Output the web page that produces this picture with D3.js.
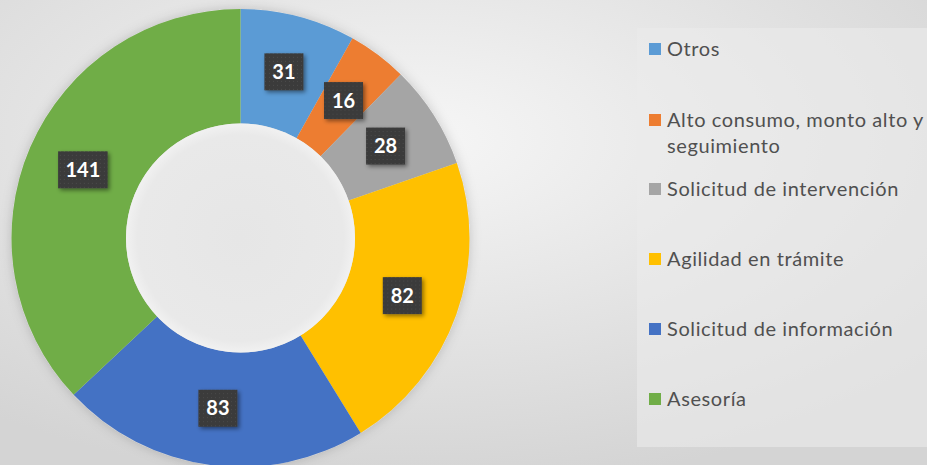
<!DOCTYPE html>
<html>
<head>
<meta charset="utf-8">
<script src="https://cdn.jsdelivr.net/npm/d3@7"></script>
<style>
  body { margin: 0; background: #e4e4e4; }
  svg { display: block; }
</style>
</head>
<body>
<svg id="chart" width="927" height="465"></svg>
<script>
// categories in clockwise order from 12 o'clock
const categories = ["Otros", "Alto consumo, monto alto y seguimiento", "Solicitud de intervención",
                    "Agilidad en trámite", "Solicitud de información", "Asesoría"];
const values = [31, 16, 28, 82, 83, 141];
const colors = ["#5B9BD5", "#ED7D31", "#A5A5A5", "#FFC000", "#4472C4", "#70AD47"];
// legend lines (long label wraps)
const legendLines = [["Otros"], ["Alto consumo, monto alto y", "seguimiento"], ["Solicitud de intervención"],
                     ["Agilidad en trámite"], ["Solicitud de información"], ["Asesoría"]];

const svg = d3.select("#chart");
const W = 927, H = 465;
const cx = 240.5, cy = 238, rOuter = 229, rInner = 114.5;

let defs = svg.append("defs");

// background: soft light centre, greyer edges
let bg = defs.append("radialGradient").attr("id", "bg")
    .attr("cx", "45%").attr("cy", "30%").attr("r", "75%");
bg.append("stop").attr("offset", "0%").attr("stop-color", "#f6f6f6");
bg.append("stop").attr("offset", "100%").attr("stop-color", "#d4d4d4");

let hole = defs.append("radialGradient").attr("id", "hole")
    .attr("cx", "50%").attr("cy", "50%").attr("r", "50%");
hole.append("stop").attr("offset", "0%").attr("stop-color", "#e6e6e6");
hole.append("stop").attr("offset", "90%").attr("stop-color", "#e9e9e9");
hole.append("stop").attr("offset", "100%").attr("stop-color", "#f1f1f1");

let shadow = defs.append("filter").attr("id", "shadow")
    .attr("x", "-30%").attr("y", "-30%").attr("width", "160%").attr("height", "160%");
shadow.append("feDropShadow").attr("dx", 2).attr("dy", 2).attr("stdDeviation", 2)
    .attr("flood-color", "#000").attr("flood-opacity", 0.45);

let glow = defs.append("filter").attr("id", "glow")
    .attr("x", "-20%").attr("y", "-20%").attr("width", "140%").attr("height", "140%");
glow.append("feDropShadow").attr("dx", 0).attr("dy", 0).attr("stdDeviation", 6)
    .attr("flood-color", "#000").attr("flood-opacity", 0.18);

// dotted texture for the label boxes
let pat = defs.append("pattern").attr("id", "dots")
    .attr("width", 4).attr("height", 4).attr("patternUnits", "userSpaceOnUse");
pat.append("rect").attr("width", 4).attr("height", 4).attr("fill", "#3a3a3a");
pat.append("rect").attr("x", 1).attr("y", 1).attr("width", 1).attr("height", 1).attr("fill", "#4c4c4c");

svg.append("rect").attr("width", W).attr("height", H).attr("fill", "url(#bg)");

// legend panel
svg.append("rect")
    .attr("x", 637).attr("y", 28).attr("width", 290).attr("height", 419)
    .attr("fill", "#ebebeb").attr("opacity", 0.6);

// donut
let pie = d3.pie().sort(null).value(d => d)(values);
let arc = d3.arc().innerRadius(rInner).outerRadius(rOuter);

let g = svg.append("g").attr("transform", `translate(${cx},${cy})`);

g.append("circle").attr("r", rOuter).attr("fill", "#ddd").attr("filter", "url(#glow)");

g.selectAll("path.slice")
    .data(pie)
    .join("path")
    .attr("class", "slice")
    .attr("d", arc)
    .attr("fill", (d, i) => colors[i]);

g.append("circle").attr("r", rInner).attr("fill", "url(#hole)");

// data labels
let labels = g.selectAll("g.lbl")
    .data(pie)
    .join("g")
    .attr("class", "lbl")
    .attr("transform", d => {
        let c = arc.centroid(d);
        return `translate(${c[0]},${c[1]})`;
    });

labels.append("rect")
    .attr("x", d => -(String(d.data).length * 10.5 + 18) / 2)
    .attr("y", -18.5)
    .attr("width", d => String(d.data).length * 10.5 + 18)
    .attr("height", 37)
    .attr("fill", "url(#dots)")
    .attr("filter", "url(#shadow)");

labels.append("text")
    .attr("text-anchor", "middle")
    .attr("dy", "0.36em")
    .attr("fill", "#fff")
    .attr("font-family", "Lato, 'Open Sans', sans-serif")
    .attr("font-weight", "bold")
    .attr("font-size", 20)
    .text(d => d.data);

// legend
let legendY = [49, 120, 189, 259, 329, 399];
let lg = svg.append("g").attr("font-family", "Lato, 'Open Sans', sans-serif")
    .attr("font-size", 20).attr("letter-spacing", 0.6).attr("fill", "#505050");

let items = lg.selectAll("g")
    .data(categories)
    .join("g")
    .attr("transform", (d, i) => `translate(649,${legendY[i]})`);

items.append("rect")
    .attr("x", 0).attr("y", -6).attr("width", 12).attr("height", 12)
    .attr("fill", (d, i) => colors[i]);

items.each(function(d, i) {
    let t = d3.select(this).append("text").attr("x", 18);
    legendLines[i].forEach((line, j) => {
        t.append("tspan").attr("x", 18).attr("dy", j == 0 ? "0.35em" : 26).text(line);
    });
});
</script>
</body>
</html>
